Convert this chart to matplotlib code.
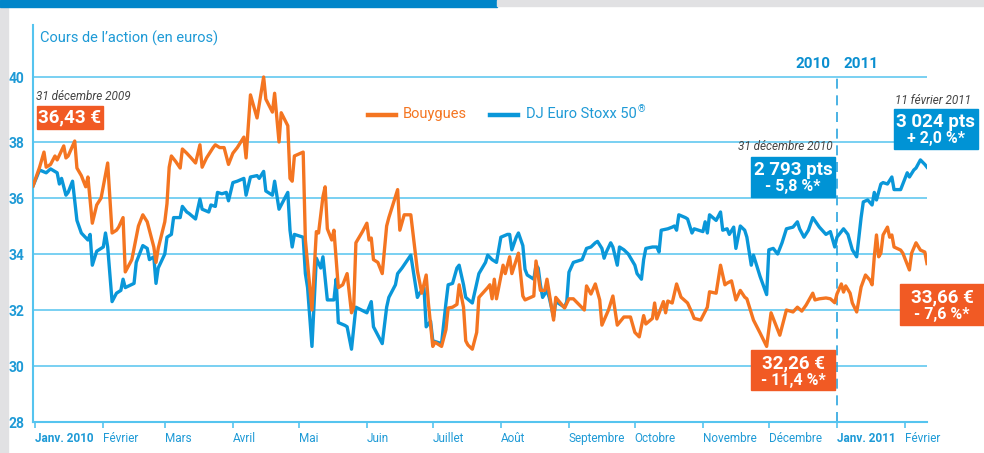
import numpy as np
import pandas as pd
import matplotlib
matplotlib.use("Agg")
import matplotlib.pyplot as plt
from matplotlib.patches import Rectangle
from matplotlib.lines import Line2D

# days counted from 31 Dec 2009
bouygues_days = [0, 3, 5, 6, 8, 10, 11, 14, 15, 16, 19, 20, 22, 24, 25, 27, 29, 31, 34, 36,
                 38, 39, 41, 42, 45, 46, 48, 50, 52, 55, 56, 57, 60, 61, 62, 63, 65, 67, 68, 70,
                 72, 74, 76, 77, 79, 82, 83, 85, 87, 89, 91, 93, 96, 97, 99, 102, 105, 106, 109, 110,
                 112, 113, 116, 117, 118, 119, 123, 124, 127, 129, 130, 132, 133, 134, 136, 137, 139, 141, 143, 145,
                 146, 147, 150, 152, 153, 154, 155, 157, 159, 161, 162, 166, 167, 169, 172, 175, 177, 179, 180, 182,
                 183, 185, 186, 188, 189, 191, 193, 194, 196, 197, 198, 200, 202, 203, 207, 208, 209, 210, 211, 214,
                 215, 217, 218, 221, 223, 224, 228, 229, 231, 233, 234, 237, 238, 242, 244, 246, 251, 252, 254, 256,
                 258, 259, 262, 264, 266, 269, 272, 274, 276, 278, 279, 282, 283, 284, 287, 288, 289, 291, 293, 295,
                 298, 300, 301, 304, 307, 308, 311, 313, 315, 316, 318, 320, 322, 324, 325, 327, 328, 331, 334, 336,
                 338, 340, 343, 346, 348, 350, 352, 355, 356, 358, 361, 363, 365, 366, 368, 369, 370, 372, 373, 375,
                 377, 379, 381, 382, 383, 384, 385, 386, 387, 389, 390, 391, 392, 395, 396, 399, 400, 402, 404, 406,
                 407]
bouygues = [36.43, 37.1, 37.64, 37.1, 37.2, 37.5, 37.36, 37.86, 37.43, 37.5, 38.03, 37.07, 36.8, 36.4, 36.75, 35.1, 35.75, 36.0, 37.25, 34.75,
            34.85, 34.96, 35.3, 33.36, 33.8, 34.2, 35.0, 35.4, 35.15, 34.25, 33.7, 34.2, 35.15, 35.8, 37.1, 37.5, 37.3, 37.07, 37.75, 37.6,
            37.43, 37.25, 37.9, 37.1, 37.43, 37.8, 37.9, 37.8, 37.8, 37.2, 37.6, 37.8, 38.15, 37.43, 39.45, 38.74, 40.0, 39.32, 38.92, 39.5,
            38.0, 38.9, 38.5, 36.7, 36.6, 37.5, 37.64, 34.5, 32.0, 34.8, 34.75, 36.05, 36.4, 34.9, 34.5, 34.85, 32.8, 32.9, 33.3, 31.9,
            32.1, 34.4, 34.8, 35.1, 34.5, 34.57, 33.8, 33.7, 33.3, 35.0, 35.3, 36.3, 34.85, 35.4, 35.4, 33.4, 32.6, 33.25, 32.25, 30.7,
            30.85, 30.75, 30.7, 31.3, 32.07, 32.1, 32.2, 32.9, 32.1, 30.9, 30.75, 30.6, 31.2, 32.45, 32.8, 32.9, 32.4, 33.1, 32.4, 33.6,
            33.3, 33.9, 33.3, 34.03, 32.5, 32.36, 32.5, 33.75, 32.7, 32.7, 33.1, 31.64, 32.45, 32.07, 32.4, 32.4, 32.0, 32.86, 32.57, 32.93,
            32.36, 31.46, 32.0, 32.5, 31.46, 31.75, 31.75, 31.2, 31.04, 31.8, 31.5, 31.7, 32.25, 31.68, 32.3, 31.9, 32.32, 32.25, 32.93, 32.46,
            32.25, 31.9, 31.7, 31.64, 32.1, 32.65, 32.6, 33.6, 32.9, 32.96, 33.04, 32.36, 32.7, 32.46, 32.4, 31.9, 31.64, 31.18, 30.7, 31.9,
            31.5, 31.1, 32.0, 31.93, 32.1, 31.96, 32.18, 32.6, 32.36, 32.4, 32.43, 32.4, 32.26, 32.57, 32.93, 32.64, 32.86, 32.6, 32.25, 31.93,
            32.82, 33.25, 33.07, 32.9, 33.9, 34.68, 33.9, 34.03, 34.68, 34.96, 34.6, 34.68, 34.25, 34.14, 34.03, 33.43, 34.03, 34.4, 34.14, 34.07,
            33.66]

stoxx_days = [0, 3, 6, 8, 11, 12, 13, 15, 16, 18, 20, 22, 25, 26, 27, 29, 32, 33, 34, 36,
              38, 40, 41, 42, 46, 47, 50, 52, 53, 55, 56, 57, 60, 61, 63, 64, 67, 68, 70, 71,
              74, 76, 77, 80, 81, 83, 84, 86, 88, 89, 91, 93, 96, 97, 99, 102, 103, 105, 106, 109,
              110, 112, 114, 116, 117, 118, 119, 123, 124, 125, 127, 128, 129, 131, 132, 134, 137, 138, 139, 142,
              143, 145, 147, 152, 154, 155, 159, 161, 162, 165, 166, 168, 172, 175, 176, 178, 179, 181, 182, 184,
              186, 188, 189, 191, 193, 194, 196, 197, 200, 203, 206, 207, 209, 211, 213, 216, 217, 218, 220, 221,
              223, 224, 225, 228, 229, 230, 231, 232, 234, 235, 237, 238, 242, 243, 244, 246, 248, 250, 252, 254,
              256, 257, 259, 260, 261, 263, 264, 266, 267, 269, 271, 274, 275, 277, 278, 279, 282, 284, 285, 286,
              289, 291, 292, 293, 294, 297, 298, 300, 301, 305, 306, 307, 308, 311, 313, 314, 316, 317, 319, 320,
              322, 324, 325, 327, 328, 331, 334, 335, 337, 339, 341, 343, 346, 348, 349, 351, 353, 355, 358, 361,
              363, 365, 366, 369, 371, 373, 375, 377, 378, 380, 382, 383, 384, 386, 387, 389, 391, 392, 395, 396,
              398, 399, 401, 402, 404, 406, 407]
stoxx = [36.43, 37.0, 36.9, 37.04, 36.9, 36.5, 36.7, 36.1, 36.2, 36.6, 35.2, 34.75, 34.5, 34.7, 33.6, 34.1, 34.25, 34.75, 34.25, 32.3,
         32.6, 32.7, 33.1, 32.8, 32.95, 33.7, 34.3, 34.2, 33.8, 33.9, 32.95, 33.5, 34.0, 34.6, 34.7, 35.3, 35.3, 35.7, 35.5, 35.45,
         35.25, 35.96, 35.6, 35.5, 35.75, 35.7, 36.2, 36.15, 36.2, 35.9, 36.55, 36.6, 36.7, 36.1, 36.75, 36.8, 36.7, 36.95, 36.25, 36.1,
         36.6, 35.6, 35.9, 36.2, 34.85, 34.25, 34.7, 34.6, 33.3, 32.8, 30.7, 32.25, 33.85, 33.5, 33.9, 32.36, 32.36, 33.1, 31.55, 31.45,
         31.4, 30.6, 32.1, 31.9, 32.3, 31.4, 30.8, 32.1, 32.45, 32.9, 33.3, 33.5, 33.96, 32.45, 32.6, 32.8, 31.4, 31.6, 30.9, 30.85,
         30.8, 32.25, 32.9, 32.95, 33.5, 33.6, 32.9, 32.45, 32.25, 33.3, 33.7, 33.96, 33.8, 33.7, 34.6, 34.7, 34.7, 34.15, 34.6, 34.75,
         34.3, 33.45, 33.25, 33.1, 33.6, 33.5, 32.9, 32.45, 32.7, 32.45, 31.75, 32.3, 32.1, 32.3, 33.35, 33.7, 33.75, 33.8, 34.2, 34.25,
         34.4, 34.45, 34.2, 33.85, 34.07, 34.4, 34.25, 33.6, 34.25, 34.15, 34.0, 33.6, 33.3, 33.1, 33.8, 34.2, 34.25, 34.25, 34.07, 34.85,
         34.9, 34.96, 35.0, 34.85, 35.4, 35.3, 35.25, 34.75, 34.9, 34.8, 35.15, 34.75, 35.4, 35.2, 35.5, 34.85, 34.9, 34.7, 34.96, 34.2,
         35.0, 34.85, 34.6, 33.6, 33.96, 33.2, 32.55, 34.15, 34.2, 34.0, 34.4, 34.9, 34.96, 35.15, 34.9, 34.6, 34.85, 35.3, 34.96, 34.7,
         34.8, 34.25, 34.6, 34.9, 34.7, 34.15, 33.9, 35.3, 35.86, 35.93, 35.75, 36.2, 35.93, 36.5, 36.55, 36.5, 36.75, 36.3, 36.3, 36.5,
         36.9, 36.75, 37.0, 37.07, 37.36, 37.2, 37.1]

month_labels = ["Janv. 2010", "Février", "Mars", "Avril", "Mai", "Juin", "Juillet", "Août",
                "Septembre", "Octobre", "Novembre", "Décembre", "Janv. 2011", "Février"]
y_ticks = [28, 30, 32, 34, 36, 38, 40]

ORANGE = "#f47521"
BOX_OR = "#f15a24"
BLUE = "#0a97d9"
BOX_BL = "#0093d5"
GRID = "#55c4ef"
TXT = "#1e9ad6"
FONT = "Roboto"

W, H = 984, 453
start = pd.Timestamp("2009-12-31")
bx = start + pd.to_timedelta(bouygues_days, unit="D")
sx = start + pd.to_timedelta(stoxx_days, unit="D")


# the original stretches the band between 38 and 40
def fwd(y):
    y = np.asarray(y, dtype=float)
    return np.where(y > 38, 38 + (y - 38) * 65 / 56, y)


def inv(t):
    t = np.asarray(t, dtype=float)
    return np.where(t > 38, 38 + (t - 38) * 56 / 65, t)


fig = plt.figure(figsize=(W / 100, H / 100), dpi=100)
ax = fig.add_axes([33 / W, 1 - 422 / H, (927 - 33) / W, (422 - 25) / H])
ax.set_yscale("function", functions=(fwd, inv))

ax.plot(sx, stoxx, color=BLUE, lw=2.4, solid_joinstyle="round", zorder=3)
ax.plot(bx, bouygues, color=ORANGE, lw=2.4, solid_joinstyle="round", zorder=3)

ax.set_xlim(start, start + pd.Timedelta(days=407))
ax.set_ylim(28, 41.6)

for v in y_ticks[1:]:
    ax.axhline(v, color=GRID, lw=1.1, zorder=1)

jan11 = pd.Timestamp("2011-01-01")
ax.plot([jan11, jan11], [28, 40], color="#2ba6df", lw=1.2, dashes=(6, 4), zorder=2)

ax.set_yticks(y_ticks)
ax.set_yticklabels([str(v) for v in y_ticks])
ax.yaxis.set_minor_locator(matplotlib.ticker.NullLocator())
ax.tick_params(axis="y", length=0, pad=6, labelcolor=TXT, labelsize=10)
for lab in ax.get_yticklabels():
    lab.set_fontfamily(FONT)
    lab.set_fontweight("bold")

ticks = pd.date_range("2010-01-01", "2011-02-01", freq="MS")
ax.set_xticks(ticks)
ax.set_xticklabels(month_labels)
ax.tick_params(axis="x", length=4, width=1.2, color=GRID, pad=3, labelcolor=TXT, labelsize=8.5)
for i, lab in enumerate(ax.get_xticklabels()):
    lab.set_horizontalalignment("left")
    lab.set_fontfamily(FONT)
    if month_labels[i].startswith("Janv"):
        lab.set_fontweight("bold")

for s in ["top", "right"]:
    ax.spines[s].set_visible(False)
for s in ["left", "bottom"]:
    ax.spines[s].set_color(GRID)
    ax.spines[s].set_linewidth(1.5)


def px(x, y):
    return x / W, 1 - y / H


# page decorations
fig.patches.append(Rectangle((0, 0), 8 / W, 1, transform=fig.transFigure, color="#e1e1e3", zorder=0))
fig.patches.append(Rectangle(px(0, 7), 497 / W, 7 / H, transform=fig.transFigure, color="#0085c9", zorder=0))
fig.patches.append(Rectangle(px(497, 6), (W - 497) / W, 6 / H, transform=fig.transFigure, color="#e1e1e3", zorder=0))

fig.text(*px(40, 38), "Cours de l\u2019action (en euros)", color=TXT, fontsize=10.5,
         family=FONT, va="center", ha="left")

# legend
fig.add_artist(Line2D([368 / W, 396 / W], [1 - 115 / H] * 2, color=ORANGE, lw=3.2))
fig.text(*px(403, 114), "Bouygues", color=ORANGE, fontsize=10.5, family=FONT, va="center")
fig.add_artist(Line2D([490 / W, 518 / W], [1 - 115 / H] * 2, color=BLUE, lw=3.2))
stoxx_lab = fig.text(*px(526, 114), "DJ Euro Stoxx 50", color=TXT, fontsize=10.5,
                     family=FONT, va="center")
fig.text(0, 0, "\u00ae", color=TXT, fontsize=7, family=FONT, va="top", ha="left",
         transform=matplotlib.transforms.offset_copy(
             matplotlib.transforms.blended_transform_factory(fig.transFigure, fig.transFigure),
             fig=fig, x=0, y=0))
fig.texts[-1].set_position(px(638, 104))

fig.text(*px(830, 64), "2010", color="#0a8fd0", fontsize=11, fontweight="bold", family=FONT,
         ha="right", va="center")
fig.text(*px(844, 64), "2011", color="#0a8fd0", fontsize=11, fontweight="bold", family=FONT,
         ha="left", va="center")

fig.text(*px(36, 96), "31 décembre 2009", color="#444444", fontsize=8.5, style="italic",
         family=FONT, va="center")
fig.text(*px(971, 100), "11 février 2011", color="#444444", fontsize=8.5, style="italic",
         family=FONT, va="center", ha="right")
fig.text(*px(833, 147), "31 décembre 2010", color="#444444", fontsize=8.5, style="italic",
         family=FONT, va="center", ha="right")


def box(x0, y0, x1, y1, color, line1, line2=None):
    fig.patches.append(Rectangle(px(x0, y1), (x1 - x0) / W, (y1 - y0) / H,
                                 transform=fig.transFigure, color=color, zorder=5))
    cx = (x0 + x1) / 2
    if line2 is None:
        fig.text(*px(cx, (y0 + y1) / 2), line1, color="white", fontsize=13.5, fontweight="bold",
                 family=FONT, ha="center", va="center", zorder=6)
    else:
        fig.text(*px(cx, y0 + 13), line1, color="white", fontsize=13.5, fontweight="bold",
                 family=FONT, ha="center", va="center", zorder=6)
        fig.text(*px(cx, y0 + 30), line2, color="white", fontsize=11.5, fontweight="bold",
                 family=FONT, ha="center", va="center", zorder=6)


box(37, 106, 103, 129, BOX_OR, "36,43 €")
box(751, 157, 835, 197, BOX_BL, "2 793 pts", "- 5,8 %*")
box(894, 109, 978, 149, BOX_BL, "3 024 pts", "+ 2,0 %*")
box(751, 350, 835, 390, BOX_OR, "32,26 €", "- 11,4 %*")
box(900, 284, 984, 325, BOX_OR, "33,66 €", "- 7,6 %*")

fig.savefig("out.png", dpi=100, facecolor="white")
